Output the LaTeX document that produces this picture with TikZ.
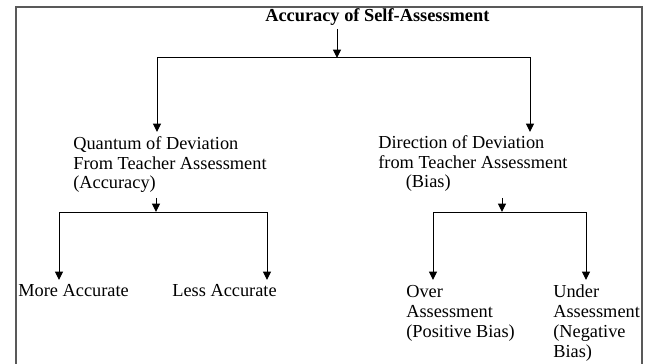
\documentclass[tikz,border=0pt]{standalone}
\usepackage{fontspec}
\setmainfont{Liberation Serif}
\usetikzlibrary{arrows.meta, positioning, calc}

\begin{document}
\begin{tikzpicture}[
  x=0.023cm, y=-0.023cm,
  txt/.style={inner sep=0pt, anchor=base west, align=left,
              font=\fontsize{12}{13}\selectfont},
  ttl/.style={txt, font=\fontsize{12}{13}\selectfont\bfseries},
  arr/.style={-{Triangle[length=5.5pt, width=5.2pt]}, line width=0.65pt},
  frame/.style={draw=black!65, line width=1.1pt}
]
\useasboundingbox (0,0) rectangle (650,364);
\clip (0,0) rectangle (650,364);
% outer frame, open at the bottom
\draw[frame] (16,370) |- (642,7) -- (642,370);

% text blocks (base = baseline of the last line)
\node[ttl] (title)     at (265,22)  {Accuracy of Self-Assessment};
\node[txt] (quantum)   at (73,189)  {Quantum of Deviation\\From Teacher Assessment\\(Accuracy)};
\node[txt] (direction) at (378,188) {Direction of Deviation\\from Teacher Assessment\\\hspace*{18pt}(Bias)};
\node[txt] (more)      at (18,296)  {More Accurate};
\node[txt] (less)      at (172,296) {Less Accurate};
\node[txt] (over)      at (406,337) {Over\\Assessment\\(Positive Bias)};
\node[txt] (under)     at (553,357) {Under\\Assessment\\(Negative\\Bias)};

% junction points
\coordinate (top)     at (337,29);
\coordinate (split)   at (337,58);
\coordinate (qin)     at (157,132);
\coordinate (din)     at (530,132);
\coordinate (qout)    at (156,198);
\coordinate (qsplit)  at (156,212);
\coordinate (morein)  at (59,280);
\coordinate (lessin)  at (267,280);
\coordinate (dout)    at (502,198);
\coordinate (dsplit)  at (502,212);
\coordinate (overin)  at (433,280);
\coordinate (underin) at (586,280);

\draw[arr] (top) -- (split);
\draw[arr] (split) -| (qin);
\draw[arr] (split) -| (din);

\draw[arr] (qout) -- (qsplit);
\draw[arr] (qsplit) -| (morein);
\draw[arr] (qsplit) -| (lessin);

\draw[arr] (dout) -- (dsplit);
\draw[arr] (dsplit) -| (overin);
\draw[arr] (dsplit) -| (underin);
\end{tikzpicture}
\end{document}
